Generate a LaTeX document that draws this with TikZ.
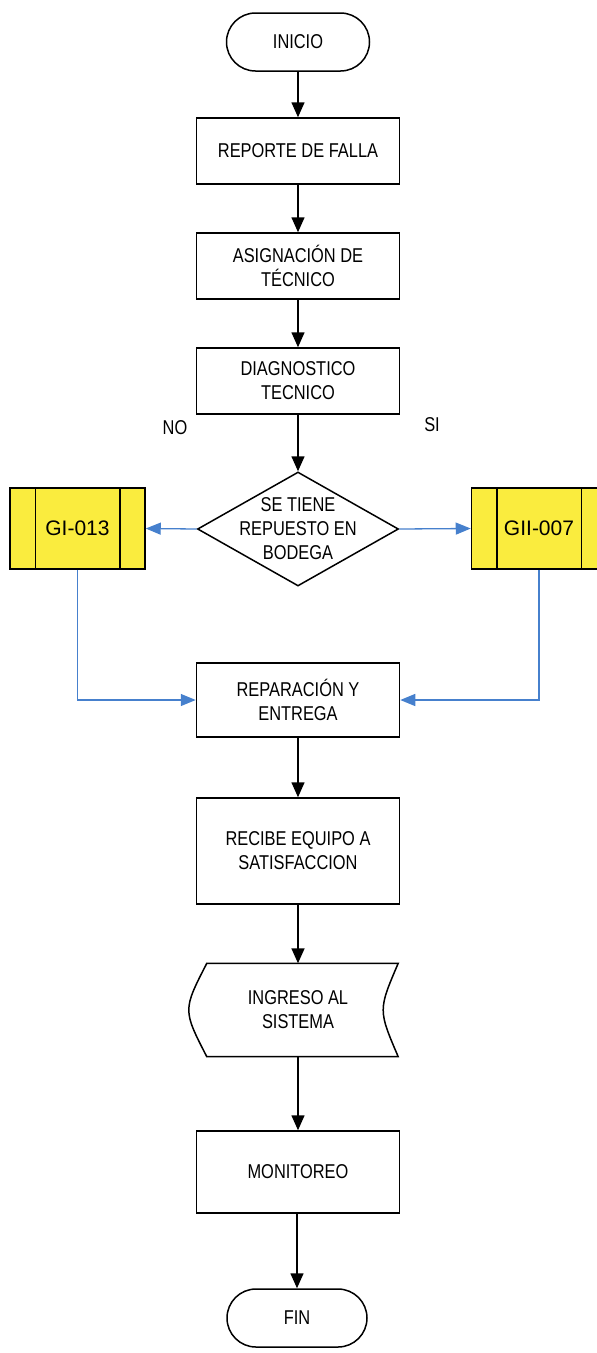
\documentclass[tikz,border=0pt]{standalone}
\usepackage{fontspec}
\setmainfont{Liberation Sans}[FakeStretch=0.82]
\newfontfamily\codefont{Liberation Sans}
\usepackage{xcolor}
\usetikzlibrary{shapes.geometric,arrows.meta}
\definecolor{linkblue}{RGB}{70,128,205}
\definecolor{boxyellow}{RGB}{250,236,62}

\begin{document}
\begin{tikzpicture}[x=1pt,y=-1pt,
  font=\fontsize{20}{24}\selectfont,
  proc/.style={shape=rectangle,draw=black,line width=1.5pt,minimum width=203pt,minimum height=66pt,inner sep=0pt,align=center},
  term/.style={shape=rectangle,draw=black,line width=1.5pt,rounded corners=29pt,minimum width=143pt,minimum height=58pt,inner sep=0pt},
  decision/.style={shape=diamond,draw=black,line width=1.5pt,minimum width=201pt,minimum height=114pt,inner sep=0pt},
  subproc/.style={shape=rectangle,draw=black,line width=1.5pt,fill=boxyellow,minimum width=135pt,minimum height=81pt,inner sep=0pt,font=\codefont\fontsize{21}{24}\selectfont},
  flow/.style={draw=black,line width=1.5pt,-{Triangle[width=13pt,length=15pt]}},
  link/.style={draw=linkblue,line width=1.3pt,-{Triangle[width=12pt,length=15pt]}}]
\useasboundingbox (0,0) rectangle (597,1353);
\clip (0,0) rectangle (597,1353);

\node[term] (inicio) at (298,42) {INICIO};
\node[proc] (falla) at (298,151) {REPORTE DE FALLA};
\node[proc] (asig) at (298,266) {ASIGNACIÓN DE\\TÉCNICO};
\node[proc] (diag) at (298,381) {DIAGNOSTICO\\TECNICO};
\node (no) at (175,428) {NO};
\node (si) at (432,425) {SI};
\node[decision,label={[align=center]center:SE TIENE\\REPUESTO EN\\BODEGA}] (rep) at (298,529) {};
\node[subproc] (gi13) at (77.5,528.5) {GI-013};
\node[subproc] (gii7) at (539,528.5) {GII-007};
\draw[line width=1.5pt] ([xshift=26pt]gi13.north west) -- ([xshift=26pt]gi13.south west)
  ([xshift=-26pt]gi13.north east) -- ([xshift=-26pt]gi13.south east);
\draw[line width=1.5pt] ([xshift=26pt]gii7.north west) -- ([xshift=26pt]gii7.south west)
  ([xshift=-26pt]gii7.north east) -- ([xshift=-26pt]gii7.south east);
\node[proc,minimum height=74pt] (entrega) at (298,700) {REPARACIÓN Y\\ENTREGA};
\node[proc,minimum height=106pt] (recibe) at (298,851) {RECIBE EQUIPO A\\SATISFACCION};
\node[minimum width=191pt,minimum height=93pt,inner sep=0pt] (ingreso) at (302.5,1010) {};
\node[align=center] (ingtxt) at (298,1010) {INGRESO AL\\SISTEMA};
\draw[line width=1.5pt] (ingreso.north west) .. controls ([xshift=-24pt]ingreso.west) .. (ingreso.south west)
  -- (ingreso.south east) .. controls ([xshift=-20pt]ingreso.east) .. (ingreso.north east) -- cycle;
\node[proc,minimum height=82pt] (monit) at (298,1172) {MONITOREO};
\node[term,minimum width=140pt] (fin) at (297,1318) {FIN};

\draw[flow] (inicio) -- (falla);
\draw[flow] (falla) -- (asig);
\draw[flow] (asig) -- (diag);
\draw[flow] (diag) -- (rep);
\draw[link] (rep.west) -- (gi13.east);
\draw[link] (rep.east) -- (gii7.west);
\draw[link] (gi13.south) |- (entrega.west);
\draw[link] (gii7.south) |- (entrega.east);
\draw[flow] (entrega) -- (recibe);
\draw[flow] (recibe.south) -- (recibe.south |- ingreso.north);
\draw[flow] (monit.north |- ingreso.south) -- (monit.north);
\draw[flow] (monit.south) -- (monit.south -| fin) -- (fin.north);
\end{tikzpicture}
\end{document}
